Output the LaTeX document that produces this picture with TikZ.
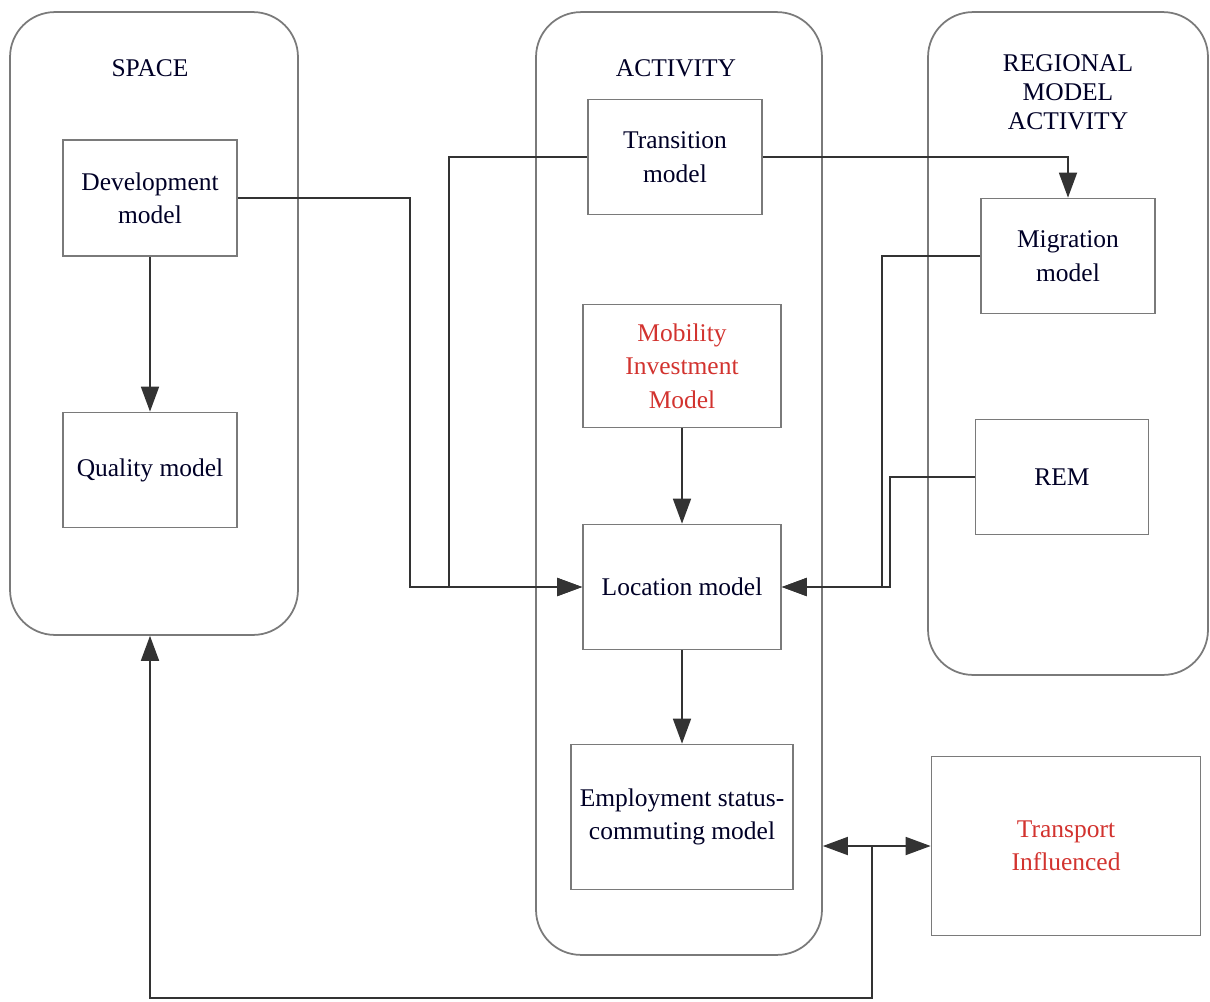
\documentclass[tikz,border=0pt]{standalone}
\usepackage{fontspec}
\setmainfont{Liberation Serif}
\usepackage{tikz}
\usetikzlibrary{arrows.meta,positioning,calc}
\usepackage{xcolor}
\definecolor{modelred}{HTML}{D2332F}
\definecolor{edgegray}{HTML}{7A7A7A}

\begin{document}
\begin{tikzpicture}[
    x=0.02cm, y=-0.02cm,
    box/.style={rectangle, draw=edgegray, line width=1pt, align=center,
                font=\fontsize{14.5}{19}\selectfont, text=black!85!blue},
    group/.style={rectangle, draw=edgegray, line width=1pt, rounded corners=0.9cm},
    title/.style={align=center, font=\fontsize{14.5}{16.5}\selectfont, text=black!85!blue},
    arrow/.style={-{Triangle[length=0.5cm, width=0.36cm]}, line width=1pt, draw=black!80},
    both_arrow/.style={{Triangle[length=0.5cm, width=0.36cm]}-{Triangle[length=0.5cm, width=0.36cm]},
                       line width=1pt, draw=black!80}
  ]
  \useasboundingbox (0,0) rectangle (1210,1001);

  % Containers
  \node[group, minimum width=5.76cm, minimum height=12.46cm] (space) at (154,323.5) {};
  \node[group, minimum width=5.72cm, minimum height=18.86cm] (activity) at (679,483.5) {};
  \node[group, minimum width=5.6cm, minimum height=13.26cm] (regional) at (1068,343.5) {};
  \node[title] (space_title) at (150,68) {SPACE};
  \node[title] (activity_title) at (676,68) {ACTIVITY};
  \node[title] (regional_title) at (1068,92) {REGIONAL\\MODEL\\ACTIVITY};

  % Space models
  \node[box, minimum width=3.48cm, minimum height=2.32cm] (dev) at (150,198) {Development\\model};
  \node[box, minimum width=3.48cm, minimum height=2.30cm] (quality) at (150,470) {Quality model};

  % Activity models
  \node[box, minimum width=3.48cm, minimum height=2.30cm] (trans) at (675,157) {Transition\\model};
  \node[box, minimum width=3.96cm, minimum height=2.46cm, text=modelred] (mobil) at (682,366) {Mobility\\Investment\\Model};
  \node[box, minimum width=3.96cm, minimum height=2.50cm] (loc) at (682,587) {Location model};
  \node[box, minimum width=4.44cm, minimum height=2.90cm] (empl) at (682,817) {Employment status-\\commuting model};

  % Regional models
  \node[box, minimum width=3.48cm, minimum height=2.30cm] (migr) at (1068,256) {Migration\\model};
  \node[box, minimum width=3.46cm, minimum height=2.30cm] (rem) at (1062,477) {REM};

  % Transport
  \node[box, minimum width=5.38cm, minimum height=3.58cm, text=modelred] (transp) at (1066,846) {Transport\\Influenced};

  % Flows inside groups
  \draw[arrow] (dev) -- (quality);
  \draw[arrow] (mobil) -- (loc);
  \draw[arrow] (loc) -- (empl);

  % Flows into location model
  \draw[arrow] (dev.east) -- (410,198) |- (loc.west);
  \draw[arrow] (trans.west) -- (449,157) |- (loc.west);
  \draw[arrow] (migr.west) -- (882,256) |- (loc.east);
  \draw[arrow] (rem.west) -- (890,477) |- (loc.east);
  \draw[arrow] (trans.east) -| (migr.north);

  % Transport feedback
  \coordinate (tj) at (872,846);
  \draw[both_arrow] (activity.east |- transp.west) -- (transp.west);
  \draw[arrow] (tj) -- (872,998) -| (space.south -| dev);

\end{tikzpicture}
\end{document}
